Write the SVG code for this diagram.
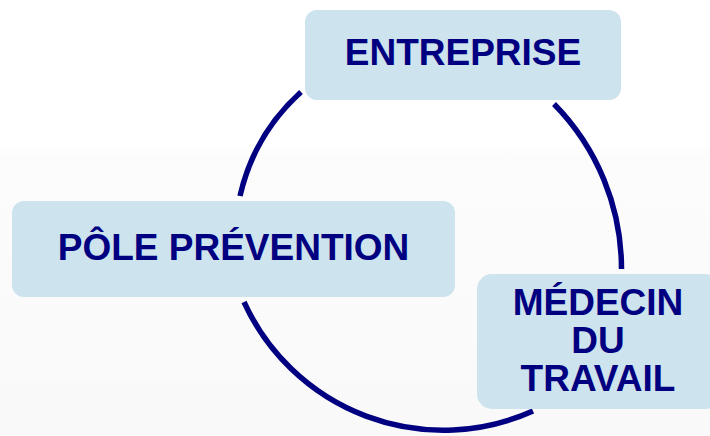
<svg xmlns="http://www.w3.org/2000/svg" width="710" height="436" viewBox="0 0 710 436">
  <defs>
    <linearGradient id="bg" x1="0" y1="0" x2="0" y2="1">
      <stop offset="0" stop-color="#ffffff"/>
      <stop offset="0.33" stop-color="#ffffff"/>
      <stop offset="0.36" stop-color="#fcfcfc"/>
      <stop offset="1" stop-color="#f9f9f9"/>
    </linearGradient>
  </defs>
  <style>
    .box { fill: #cde3ee; }
    .lbl { font-family: "Liberation Sans", Arial, sans-serif; font-weight: bold; font-size: 37px; fill: #000080; text-anchor: middle; }
    .arc { fill: none; stroke: #000080; stroke-width: 5.5; stroke-linecap: butt; }
  </style>
  <rect x="0" y="0" width="710" height="436" fill="url(#bg)"/>
  <g id="connectors">
    <path class="arc" d="M301,92 A200,200 0 0,0 240,196"/>
    <path class="arc" d="M554,104 A235,235 0 0,1 621.5,269"/>
    <path class="arc" d="M244,302 A219,219 0 0,0 533,411"/>
  </g>
  <g id="entreprise">
    <rect class="box" x="305" y="10" width="316" height="90" rx="12"/>
    <text class="lbl" x="463" y="65">ENTREPRISE</text>
  </g>
  <g id="pole-prevention">
    <rect class="box" x="12" y="201" width="443" height="96" rx="12"/>
    <text class="lbl" x="233.5" y="260">PÔLE PRÉVENTION</text>
  </g>
  <g id="medecin-du-travail">
    <rect class="box" x="477" y="274" width="243" height="135" rx="15"/>
    <text class="lbl" x="598" y="315">MÉDECIN</text>
    <text class="lbl" x="598" y="353">DU</text>
    <text class="lbl" x="598" y="391">TRAVAIL</text>
  </g>
</svg>
